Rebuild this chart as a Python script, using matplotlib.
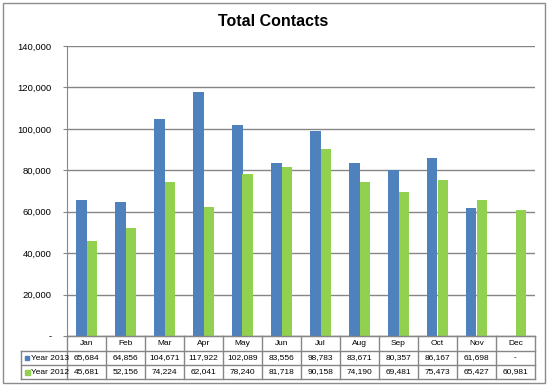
import matplotlib
matplotlib.use("Agg")
import matplotlib.pyplot as plt
from matplotlib.patches import Rectangle
from matplotlib.lines import Line2D
import numpy as np

months = ["Jan", "Feb", "Mar", "Apr", "May", "Jun", "Jul", "Aug", "Sep", "Oct", "Nov", "Dec"]
year_2013 = [65684, 64856, 104671, 117922, 102089, 83556, 98783, 83671, 80357, 86167, 61698, None]
year_2012 = [45681, 52156, 74224, 62041, 78240, 81718, 90158, 74190, 69481, 75473, 65427, 60981]
series_names = ["Year 2013", "Year 2012"]
yticks = [0, 20000, 40000, 60000, 80000, 100000, 120000, 140000]
title = "Total Contacts"

plt.rcParams["font.family"] = ["Liberation Sans", "DejaVu Sans"]

BLUE = "#4F81BD"
GREEN = "#92D050"
GRID = "#868686"
W, H = 548, 387

fig = plt.figure(figsize=(W / 100, H / 100), dpi=100)
fig.patch.set_facecolor("white")

def fx(x):
    return x / W

def fy(y):
    return 1 - y / H

L, R, T, B = 67, 535, 46, 336
ax = fig.add_axes([fx(L), fy(B), fx(R) - fx(L), fy(T) - fy(B)])

x = np.arange(len(months))
bw = 0.28
v13 = [np.nan if v is None else v for v in year_2013]
ax.bar(x - bw / 2, v13, width=bw, color=BLUE, zorder=3)
ax.bar(x + bw / 2, year_2012, width=bw, color=GREEN, zorder=3)

ax.set_xlim(-0.5, len(months) - 0.5)
ax.set_ylim(0, 140000)
ax.set_yticks(yticks)
ax.set_yticklabels(["-" if v == 0 else f"{v:,}" for v in yticks], fontsize=6.8, color="#000000")
ax.set_xticks([])
ax.tick_params(axis="y", length=3, color=GRID, pad=8)
ax.grid(axis="y", color=GRID, linewidth=1, zorder=0)
for s in ["top", "right"]:
    ax.spines[s].set_visible(False)
ax.spines["left"].set_color(GRID)
ax.spines["bottom"].set_color(GRID)

# title
fig.text(fx(273), fy(21), title, ha="center", va="center", fontsize=11.5, fontweight="bold")

# data table
row_y = [336, 351, 365, 379]
col_x = [L + (R - L) * i / len(months) for i in range(len(months) + 1)]
lab_left = 21
lines = []
for i, yy in enumerate(row_y):
    x0 = col_x[0] if i == 0 else lab_left
    lines.append(Line2D([fx(x0), fx(R)], [fy(yy), fy(yy)]))
for xx in col_x:
    lines.append(Line2D([fx(xx), fx(xx)], [fy(row_y[0]), fy(row_y[-1])]))
lines.append(Line2D([fx(lab_left), fx(lab_left)], [fy(row_y[1]), fy(row_y[-1])]))
for ln in lines:
    ln.set_color(GRID)
    ln.set_linewidth(1)
    fig.add_artist(ln)

fs = 6
for i, m in enumerate(months):
    cx = (col_x[i] + col_x[i + 1]) / 2
    fig.text(fx(cx), fy((row_y[0] + row_y[1]) / 2), m, ha="center", va="center", fontsize=fs)
    for r, vals in enumerate([year_2013, year_2012]):
        v = vals[i]
        s = "-" if v is None else f"{v:,}"
        fig.text(fx(cx), fy((row_y[r + 1] + row_y[r + 2]) / 2), s, ha="center", va="center", fontsize=fs)

for r, (name, col) in enumerate(zip(series_names, [BLUE, GREEN])):
    cy = (row_y[r + 1] + row_y[r + 2]) / 2
    sq = 4 if r == 0 else 5
    fig.add_artist(Rectangle((fx(25), fy(cy + sq / 2)), sq / W, sq / H, color=col))
    fig.text(fx(31), fy(cy), name, ha="left", va="center", fontsize=fs)

# outer border
fig.add_artist(Rectangle((fx(3), fy(383)), (542) / W, (380) / H, fill=False,
                         edgecolor="#8C8C8C", linewidth=1))

fig.savefig("out.png", dpi=100)
